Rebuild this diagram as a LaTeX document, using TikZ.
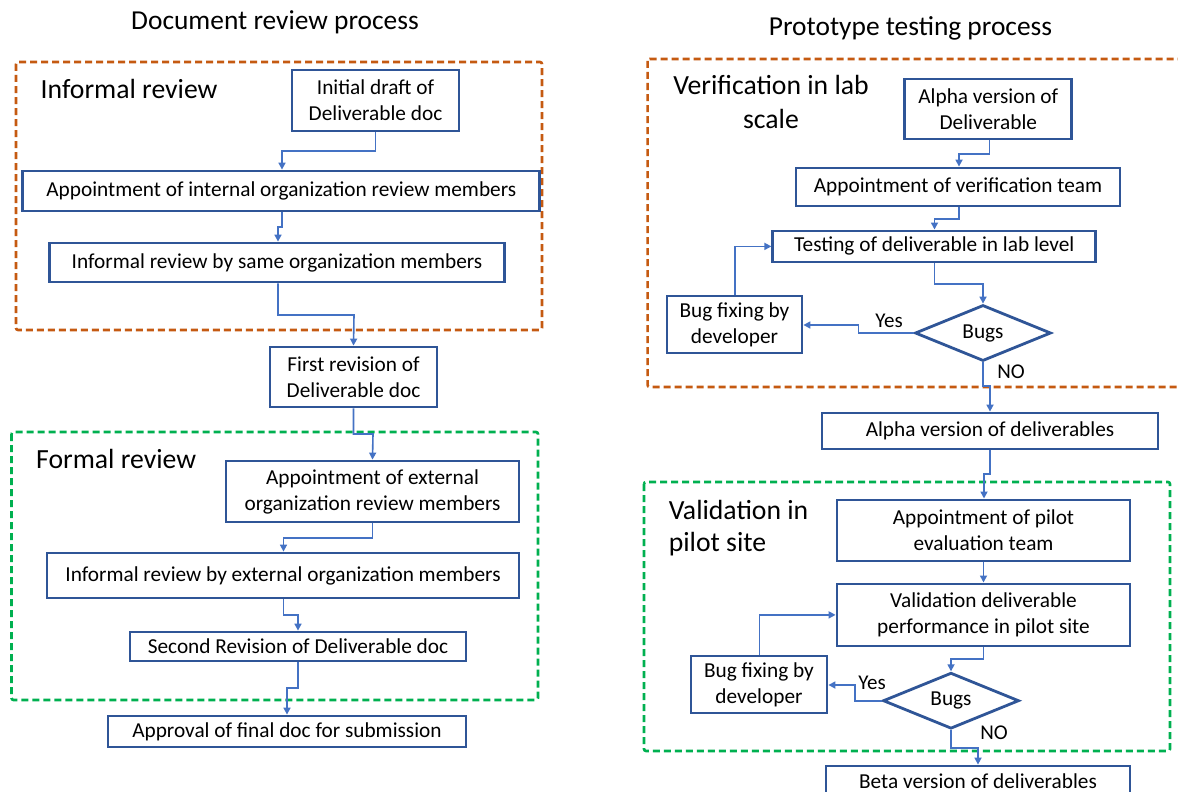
\documentclass[tikz,border=0pt]{standalone}
\usepackage{fontspec}
\setmainfont{Carlito}
\usetikzlibrary{arrows.meta,shapes.geometric}
\definecolor{boxblue}{HTML}{2F5597}
\definecolor{arrblue}{HTML}{4472C4}
\definecolor{dorange}{HTML}{C55A11}
\definecolor{dgreen}{HTML}{00B050}
\tikzset{
  x=1pt, y=-1pt,
  stepbox/.style={draw=boxblue, line width=2.8pt, rectangle, inner sep=0pt, align=center,
    font=\fontsize{21.3}{26}\selectfont, text=black},
  decision/.style={draw=boxblue, line width=2.8pt, diamond, inner sep=0pt, shape aspect=2.4,
    font=\fontsize{21.3}{26}\selectfont, minimum width=136pt, minimum height=56pt},
  arr/.style={draw=arrblue, line width=1.6pt, -{Triangle[length=7pt,width=7pt]}},
  orangebox/.style={draw=dorange, line width=2.6pt, dash pattern=on 7pt off 4pt, rounded corners=2pt},
  greenbox/.style={draw=dgreen, line width=2.6pt, dash pattern=on 7pt off 4pt, rounded corners=2pt},
  title/.style={font=\fontsize{27.4}{32}\selectfont, inner sep=0pt},
  section/.style={font=\fontsize{27.7}{33}\selectfont, inner sep=0pt},
  lbl/.style={font=\fontsize{21}{24}\selectfont, inner sep=0pt},
}
\begin{document}
\begin{tikzpicture}
\useasboundingbox (0,0) rectangle (1178,792);
\fill[white] (0,0) rectangle (1178,792);

% group frames
\draw[orangebox] (16,62) rectangle (542,330);
\draw[greenbox] (11.5,432) rectangle (538,700);
\draw[orangebox] (647.6,59) rectangle (1190,387);
\draw[greenbox] (644,482) rectangle (1170,751);

% titles
\node[title] (t1) at (275,22) {Document review process};
\node[title] (t2) at (910.5,28) {Prototype testing process};
\node[section, anchor=base west] (s1) at (40.5,98) {Informal review};
\node[section, anchor=base west] (s2) at (36,468) {Formal review};
\node[section, anchor=base] (s3a) at (771,95) {Verification in lab};
\node[section, anchor=base] (s3b) at (771,128) {scale};
\node[section, anchor=base west] (s4a) at (668.6,519) {Validation in};
\node[section, anchor=base west] (s4b) at (668.6,551.7) {pilot site};

% left column
\node[stepbox, minimum width=167pt, minimum height=61pt] (init) at (375.5,100.5) {Initial draft of\\Deliverable doc};
\node[stepbox, minimum width=517pt, minimum height=40pt] (appInt) at (281.3,191) {Appointment of internal organization review members};
\node[stepbox, minimum width=455pt, minimum height=39pt] (infSame) at (277,262.5) {Informal review by same organization members};
\node[stepbox, minimum width=167pt, minimum height=60pt] (first) at (353.5,377) {First revision of\\Deliverable doc};
\node[stepbox, minimum width=293pt, minimum height=61pt] (appExt) at (372.5,491.5) {Appointment of external\\organization review members};
\node[stepbox, minimum width=472pt, minimum height=45pt] (infExt) at (283,575.5) {Informal review by external organization members};
\node[stepbox, minimum width=336pt, minimum height=29pt] (second) at (298,646.5) {Second Revision of Deliverable doc};
\node[stepbox, minimum width=358pt, minimum height=31pt] (approval) at (287,731.5) {Approval of final doc for submission};

\draw[arr] (init.south) |- (282,151) -- (282,151 |- appInt.north);
\draw[arr] (282,0 |- appInt.south) |- (278,227) -- (278,227 |- infSame.north);
\draw[arr] (278,0 |- infSame.south) |- (354,315) -- (first.north);
\draw[arr] (first.south) |- (373,434) -- (appExt.north);
\draw[arr] (appExt.south) |- (283.5,538) -- (283.5,538 |- infExt.north);
\draw[arr] (283.5,0 |- infExt.south) |- (298,615) -- (second.north);
\draw[arr] (second.south) |- (287,688) -- (approval.north);

% right column
\node[stepbox, minimum width=167pt, minimum height=60pt] (alphaV) at (988.3,109) {Alpha version of\\Deliverable};
\node[stepbox, minimum width=324pt, minimum height=38pt] (appVer) at (958,187) {Appointment of verification team};
\node[stepbox, minimum width=323pt, minimum height=31pt] (test) at (934.3,246.4) {Testing of deliverable in lab level};
\node[decision] (bugs1) at (983,333) {Bugs};
\node[stepbox, minimum width=135pt, minimum height=57pt] (fix1) at (734.5,324.4) {Bug fixing by\\developer};
\node[stepbox, minimum width=336pt, minimum height=36pt] (alphaDel) at (990,431) {Alpha version of deliverables};
\node[stepbox, minimum width=293pt, minimum height=61pt] (appPilot) at (983.5,530.4) {Appointment of pilot\\evaluation team};
\node[stepbox, minimum width=293pt, minimum height=62pt] (valPerf) at (983.5,614.9) {Validation deliverable\\performance in pilot site};
\node[decision] (bugs2) at (951,700.7) {Bugs};
\node[stepbox, minimum width=136pt, minimum height=57pt] (fix2) at (759,684.4) {Bug fixing by\\developer};
\node[stepbox, minimum width=304pt, minimum height=30pt] (beta) at (978,781) {Beta version of deliverables};

\draw[arr] (989.5,0 |- alphaV.south) |- (959,154) -- (959,154 |- appVer.north);
\draw[arr] (959,0 |- appVer.south) |- (934.5,219) -- (934.5,219 |- test.north);
\draw[arr] (934.5,0 |- test.south) |- (983,284) -- (bugs1.north);
\draw[arr] (bugs1.west) -| (858.5,325) -- (fix1.east |- 858.5,325);
\node[lbl] (yes1) at (889,320.5) {Yes};
\draw[arr] (735,0 |- fix1.north) |- (test.west);
\draw[arr] (bugs1.south) |- (990,386) -- (990,386 |- alphaDel.north);
\node[lbl] (no1) at (1011,372) {NO};
\draw[arr] (alphaDel.south) |- (984,474) -- (984,474 |- appPilot.north);
\draw[arr] (appPilot.south) -- (valPerf.north);
\draw[arr] (valPerf.south) |- (951,659) -- (bugs2.north);
\draw[arr] (bugs2.west) -| (855,685) -- (fix2.east |- 855,685);
\node[lbl] (yes2) at (872,683) {Yes};
\draw[arr] (759.5,0 |- fix2.north) |- (valPerf.west);
\draw[arr] (bugs2.south) |- (978,747.7) -- (978,747.7 |- beta.north);
\node[lbl] (no2) at (994,733) {NO};
\end{tikzpicture}
\end{document}
